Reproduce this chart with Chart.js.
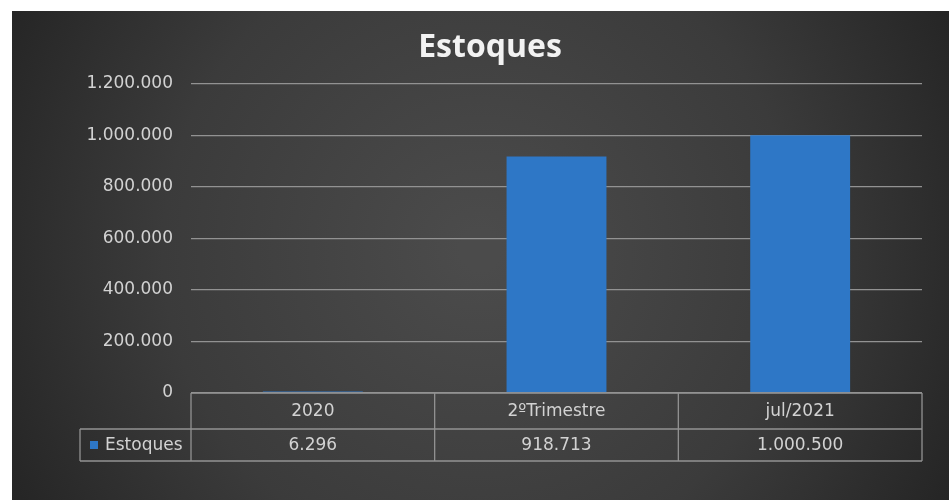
<!DOCTYPE html>
<html>
<head>
<meta charset="utf-8">
<script src="https://cdn.jsdelivr.net/npm/chart.js@4/dist/chart.umd.min.js"></script>
<style>
html,body{margin:0;padding:0;background:#fff;}
#wrap{width:949px;height:500px;position:relative;}
</style>
</head>
<body>
<div id="wrap"><canvas id="c"></canvas></div>
<script>
const categories = ['2020', '2ºTrimestre', 'jul/2021'];
const seriesName = 'Estoques';
const chartTitle = 'Estoques';
const values = [6296, 918713, 1000500];
const yTicks = [0, 200000, 400000, 600000, 800000, 1000000, 1200000];

function fmt(n) {
  return String(Math.round(n)).replace(/\B(?=(\d{3})+(?!\d))/g, '.');
}

const FONT = '"DejaVu Sans", "Open Sans", sans-serif';
const TFONT = '"Open Sans", "DejaVu Sans", sans-serif';
const TEXT = '#d2d2d2';
const LINE = '#929292';
const BAR = '#2e77c6';

const bgPlugin = {
  id: 'bg',
  beforeDraw(chart) {
    const ctx = chart.ctx;
    const w = chart.width, h = chart.height;
    ctx.save();
    ctx.fillStyle = '#ffffff';
    ctx.fillRect(0, 0, w, h);
    const g = ctx.createRadialGradient(480, 250, 20, 480, 250, 560);
    g.addColorStop(0, '#4b4b4b');
    g.addColorStop(0.55, '#3b3b3b');
    g.addColorStop(1, '#222222');
    ctx.fillStyle = g;
    ctx.fillRect(12, 11, w - 12, h - 11);
    ctx.fillStyle = '#f2f2f2';
    ctx.font = 'bold 32px ' + TFONT;
    ctx.textAlign = 'center';
    ctx.textBaseline = 'alphabetic';
    ctx.fillText(chartTitle, 490, 57);
    ctx.restore();
  }
};

const tablePlugin = {
  id: 'dataTable',
  afterDraw(chart) {
    const ctx = chart.ctx;
    const xs = chart.scales.x;
    const area = chart.chartArea;
    const top = area.bottom;
    const r1 = top + 36;
    const r2 = r1 + 32;
    const legLeft = 80;
    const n = categories.length;
    const edges = [];
    for (let i = 0; i <= n; i++) {
      edges.push(i === 0 ? area.left : (i === n ? area.right : (xs.getPixelForValue(i - 1) + xs.getPixelForValue(i)) / 2));
    }
    ctx.save();
    ctx.strokeStyle = LINE;
    ctx.lineWidth = 1.3;
    ctx.beginPath();
    ctx.moveTo(area.left, top); ctx.lineTo(area.right, top);
    ctx.moveTo(legLeft, r1); ctx.lineTo(area.right, r1);
    ctx.moveTo(legLeft, r2); ctx.lineTo(area.right, r2);
    edges.forEach(x => { ctx.moveTo(x, top); ctx.lineTo(x, r2); });
    ctx.moveTo(legLeft, r1); ctx.lineTo(legLeft, r2);
    ctx.stroke();

    ctx.fillStyle = TEXT;
    ctx.font = '17px ' + FONT;
    ctx.textAlign = 'center';
    ctx.textBaseline = 'middle';
    categories.forEach((c, i) => {
      const cx = xs.getPixelForValue(i);
      ctx.fillText(c, cx, (top + r1) / 2 + 1);
      ctx.fillText(fmt(values[i]), cx, (r1 + r2) / 2 + 1);
    });
    ctx.fillStyle = BAR;
    ctx.fillRect(90, (r1 + r2) / 2 - 4, 8, 8);
    ctx.fillStyle = TEXT;
    ctx.textAlign = 'left';
    ctx.fillText(seriesName, 105, (r1 + r2) / 2 + 1);
    ctx.restore();
  }
};

new Chart(document.getElementById('c'), {
  type: 'bar',
  data: {
    labels: categories,
    datasets: [{
      label: seriesName,
      data: values,
      backgroundColor: BAR,
      borderWidth: 0,
      barPercentage: 0.41,
      categoryPercentage: 1.0
    }]
  },
  options: {
    responsive: true,
    maintainAspectRatio: false,
    animation: false,
    devicePixelRatio: 1,
    layout: { padding: { left: 0, right: 27, top: 84, bottom: 107 } },
    plugins: {
      legend: { display: false },
      tooltip: { enabled: false },
      title: { display: false }
    },
    scales: {
      x: {
        display: false,
        offset: true,
        grid: { display: false }
      },
      y: {
        min: 0,
        max: 1200000,
        afterBuildTicks(scale) {
          scale.ticks = yTicks.map(v => ({ value: v }));
        },
        afterFit(scale) { scale.width = 191; },
        border: { display: false },
        grid: { color: LINE, lineWidth: 1.3, drawTicks: false },
        ticks: {
          color: TEXT,
          padding: 18,
          font: { family: FONT, size: 17 },
          callback: v => fmt(v)
        }
      }
    }
  },
  plugins: [bgPlugin, tablePlugin]
});
</script>
</body>
</html>
